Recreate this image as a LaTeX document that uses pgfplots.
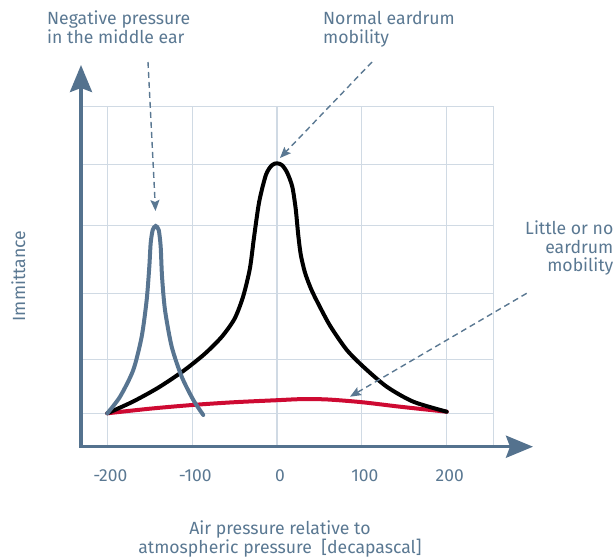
\documentclass[border=0pt]{standalone}
\usepackage{pgfplots}
\pgfplotsset{compat=1.18}
\usetikzlibrary{arrows.meta}
\usepackage{fontspec}
\setmainfont{Fira Sans}
\definecolor{axcol}{RGB}{84,114,142}
\definecolor{textcol}{RGB}{90,120,146}
\definecolor{bluecurve}{RGB}{88,117,145}
\definecolor{redcurve}{RGB}{206,10,50}
\definecolor{gridcol}{RGB}{208,218,228}
\newcommand{\tfont}{\fontsize{17.7}{19}\selectfont}
\begin{document}
\begin{tikzpicture}
\useasboundingbox (0,0) rectangle (616bp,-557bp);
\begin{axis}[
  at={(81bp,-446.7bp)}, anchor=south west,
  scale only axis, width=412.3bp, height=340bp,
  xmin=-231, xmax=254.9, ymin=0, ymax=340,
  xtick={-200,-100,0,100,200},
  xticklabels={-200,-100,0,100,200},
  ytick={33.4,87.4,153.4,221.4,282.4},
  yticklabels={},
  major tick length=0,
  grid=major,
  grid style={gridcol, line width=1.2bp},
  axis line style={gridcol, line width=1.2bp},
  xticklabel style={font=\fontsize{17.5}{18}\selectfont, text=textcol, anchor=base, yshift=-34.3bp, xshift=3bp},
  /pgf/number format/assume math mode=true,
  clip=false,
]
\draw[axcol, line width=3.5bp, line join=miter, {Stealth[length=27bp,width=22bp,inset=4bp]}-{Stealth[length=27bp,width=22bp,inset=4bp]}]
  (axis cs:-231,381.7) -- (axis cs:-231,0) -- (axis cs:301.7,0);
\addplot[redcurve, line width=4bp, smooth, tension=0.5, line cap=round] coordinates {
(-200,33.4) (-150,38) (-100,41.7) (-50,44.5) (0,46.5) (30,47.6) (60,47.2) (100,44.5) (145,40) (200,35)
};
\addplot[black, line width=4bp, smooth, tension=0.45, line cap=round] coordinates {
(-200,33.4) (-170,45) (-140,59) (-110,76) (-85,93) (-65,110) (-50,128) (-40,150) (-32,178)
(-27,210) (-21,245) (-13,272) (-6,281.5) (0,283.4) (6,281.5) (12,274) (18,260) (22,238) (25,212)
(28,192) (33,174) (40,158) (48,144) (62.5,121) (82,97) (101.7,80) (129.3,60) (160.6,45) (200,35)
};
\addplot[bluecurve, line width=4bp, smooth, tension=0.45, line cap=round] coordinates {
(-200,33.4) (-185,50) (-169.4,76.7) (-159.5,110) (-153.6,146.7) (-150.5,180) (-148.9,203.4)
(-146.5,216.7) (-143,220.7) (-139.4,216.7) (-137.1,200) (-135.5,170) (-132,136.7) (-124.1,100)
(-112.3,70) (-98.6,46.7) (-86.9,31.7)
};
\end{axis}
\begin{scope}[textcol, line width=1.4bp, dash pattern=on 6bp off 4bp, -{Stealth[length=11bp,width=9bp,inset=2bp]}]
\draw (148bp,-62bp) -- (155.5bp,-211bp);
\draw (372bp,-62bp) -- (280bp,-158bp);
\draw (526.7bp,-293.3bp) -- (350bp,-396.7bp);
\end{scope}
\begin{scope}[every node/.style={text=textcol, inner sep=0pt, font=\tfont}]
\node[anchor=base west] at (47bp,-24bp) {Negative pressure};
\node[anchor=base west] at (47bp,-43bp) {in the middle ear};
\node[anchor=base west] at (323bp,-24bp) {Normal eardrum};
\node[anchor=base west] at (323bp,-43bp) {mobility};
\node[anchor=base east] at (613.5bp,-234bp) {Little or no};
\node[anchor=base east] at (613.5bp,-253.3bp) {eardrum};
\node[anchor=base east] at (613.5bp,-271.5bp) {mobility};
\node[anchor=base] at (280bp,-534.3bp) {Air pressure relative to};
\node[anchor=base] at (280bp,-553bp) {atmospheric pressure~~[decapascal]};
\node[anchor=base, rotate=90] at (25bp,-276bp) {Immittance};
\end{scope}
\end{tikzpicture}
\end{document}
